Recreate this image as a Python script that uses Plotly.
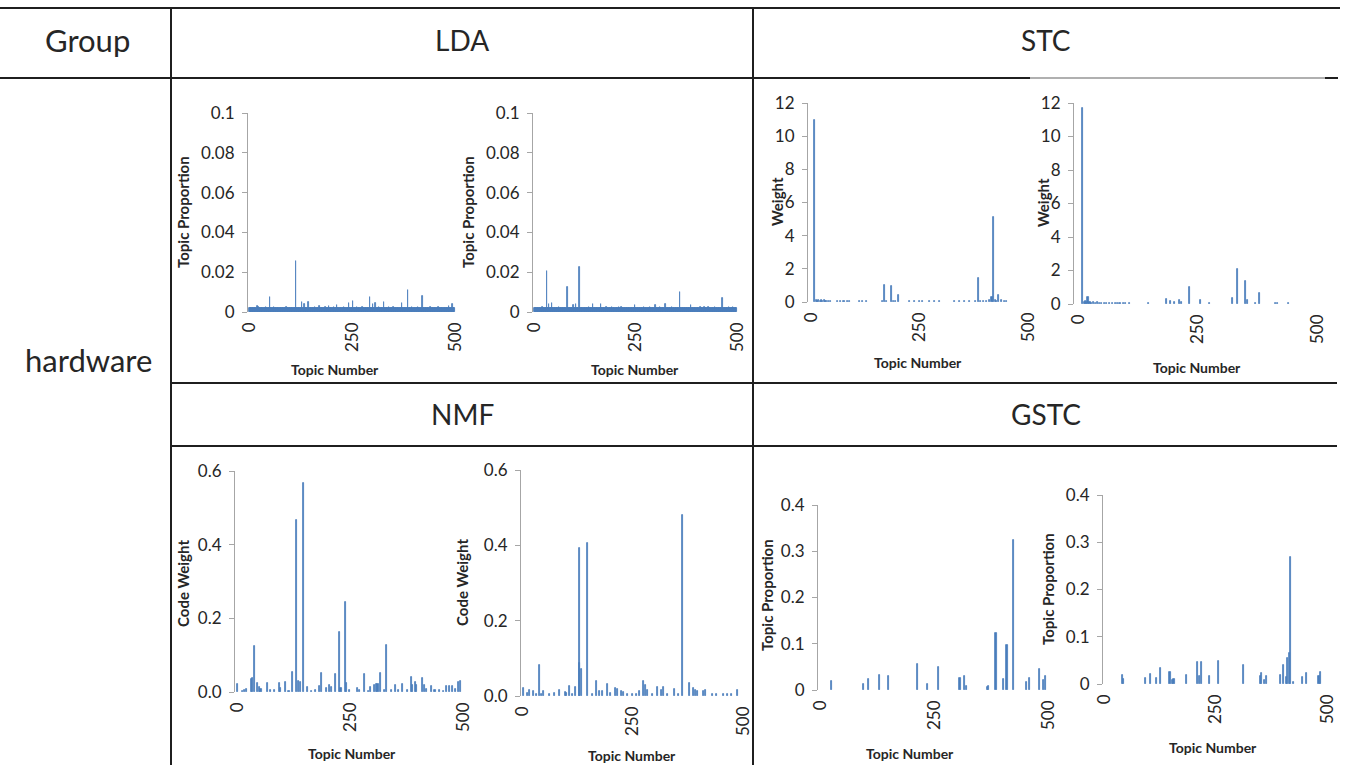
import plotly.graph_objects as go

W, H = 1349, 765

# ---------------- data ----------------
group_label = "hardware"
method_headers = ["LDA", "STC", "NMF", "GSTC"]

topic_tick_values = [0, 250, 500]
topic_tick_labels = ["0", "250", "500"]

lda_ticks = [0, 0.02, 0.04, 0.06, 0.08, 0.1]
lda_tick_labels = ["0", "0.02", "0.04", "0.06", "0.08", "0.1"]
stc_ticks = [0, 2, 4, 6, 8, 10, 12]
stc_tick_labels = ["0", "2", "4", "6", "8", "10", "12"]
nmf_ticks = [0, 0.2, 0.4, 0.6]
nmf_tick_labels = ["0.0", "0.2", "0.4", "0.6"]
gstc_ticks = [0, 0.1, 0.2, 0.3, 0.4]
gstc_tick_labels = ["0", "0.1", "0.2", "0.3", "0.4"]

# LDA: topic proportion of every topic 0..499 (units of 1e-4), rows of 25 topics
lda_left_rows = [
    [21,21,21,21,21, 21,21,21,21,21, 21,21,21,21,21, 21,21,21,21,30, 21,21,26,21,21],
    [21,21,21,21,21, 21,21,21,21,21, 21,21,21,21,21, 24,21,21,21,21, 21,21,21,21,21],
    [75,21,21,21,21, 21,21,21,21,21, 25,21,21,21,21, 21,21,21,21,21, 21,21,21,21,21],
    [21,21,21,21,21, 21,21,21,21,21, 21,21,21,21,21, 24,21,21,21,21, 21,21,21,21,21],
    [21,21,21,21,21, 21,21,21,21,21, 21,21,21,257,21, 21,21,21,21,21, 21,21,21,21,21],
    [21,21,21,49,21, 21,21,21,21,40, 21,21,21,21,21, 21,21,21,21,49, 21,21,21,21,21],
    [21,21,21,21,21, 21,21,21,21,21, 26,21,21,21,21, 21,21,21,21,21, 30,21,21,21,21],
    [21,21,21,21,21, 21,21,21,21,21, 27,21,21,21,21, 21,21,21,30,21, 21,21,21,21,21],
    [21,21,21,21,21, 26,21,21,21,21, 21,21,21,34,21, 21,21,21,21,21, 21,21,21,21,21],
    [21,21,21,21,21, 25,21,21,21,21, 21,21,21,21,21, 21,21,47,21,21, 21,21,21,21,21],
    [21,21,55,21,21, 21,21,21,21,21, 21,21,26,21,21, 21,21,21,21,21, 21,21,21,21,21],
    [26,21,21,21,21, 21,21,21,21,21, 21,21,21,21,21, 21,21,21,77,21, 21,21,21,21,21],
    [40,21,21,21,21, 21,21,45,21,21, 21,21,21,21,21, 26,21,21,21,21, 21,21,21,21,21],
    [21,21,49,21,21, 21,21,21,21,21, 21,21,21,21,21, 25,21,21,21,21, 21,21,21,21,21],
    [24,21,21,21,21, 21,21,21,21,21, 21,21,21,21,21, 21,21,21,21,21, 21,45,21,21,21],
    [21,21,21,21,21, 21,21,21,21,21, 109,21,21,21,21, 21,21,21,21,21, 25,21,21,21,21],
    [21,21,21,21,21, 21,21,21,21,21, 25,21,21,21,21, 21,21,21,21,21, 21,79,21,21,21],
    [21,21,21,21,21, 21,21,21,21,21, 21,21,21,21,21, 25,21,21,21,21, 21,21,21,21,21],
    [21,21,21,21,21, 21,21,21,21,21, 26,21,21,21,21, 21,21,21,21,21, 21,21,21,21,21],
    [21,21,21,21,21, 21,21,21,21,21, 21,30,21,21,21, 21,21,21,21,42, 21,21,21,21,21],
]
lda_right_rows = [
    [20,20,20,20,20, 20,20,20,20,20, 20,20,20,20,20, 20,20,20,20,20, 25,20,20,20,20],
    [20,20,20,20,20, 20,208,20,20,20, 20,42,20,20,20, 20,20,20,44,20, 20,20,20,20,20],
    [20,20,20,20,20, 20,20,20,20,20, 24,20,20,20,20, 20,20,20,20,20, 20,20,20,20,20],
    [20,20,20,20,20, 20,124,20,20,20, 20,20,20,20,20, 20,20,20,20,20, 20,35,20,20,20],
    [20,20,20,42,20, 20,20,20,20,20, 20,227,20,20,20, 20,20,20,20,20, 20,20,20,20,20],
    [20,20,20,20,20, 20,20,20,20,20, 24,20,20,20,20, 20,20,20,20,42, 20,20,20,20,20],
    [20,20,20,20,20, 20,20,20,20,20, 20,20,20,20,39, 20,20,20,20,20, 20,20,20,20,20],
    [20,20,20,26,20, 20,20,20,20,20, 20,20,20,20,20, 20,20,27,20,20, 20,20,20,20,20],
    [20,20,20,20,20, 20,20,20,20,27, 20,20,20,20,20, 25,20,20,20,20, 20,20,20,20,20],
    [20,20,20,20,20, 20,20,20,20,20, 20,20,20,20,20, 20,20,20,20,20, 20,20,20,34,20],
    [20,20,20,20,20, 20,20,20,20,20, 20,20,20,20,20, 20,20,20,20,20, 25,20,20,20,20],
    [20,20,20,20,20, 20,20,20,20,20, 24,20,20,20,20, 20,20,20,20,20, 20,20,20,20,37],
    [20,20,20,20,20, 20,20,20,20,20, 26,20,20,20,20, 20,20,20,20,20, 20,20,20,42,20],
    [20,20,20,20,20, 20,20,20,20,20, 20,20,20,20,20, 24,20,20,20,20, 20,20,20,20,20],
    [20,20,20,20,20, 20,20,20,20,99, 20,20,20,20,20, 20,20,20,20,20, 20,20,20,20,20],
    [20,20,20,20,20, 20,20,20,20,20, 20,20,34,20,20, 20,20,20,20,20, 20,20,20,20,20],
    [20,20,20,20,20, 20,20,20,20,20, 25,20,20,20,20, 20,20,20,20,20, 24,20,20,20,20],
    [20,20,20,20,20, 26,20,20,20,20, 20,20,20,20,20, 20,20,20,20,20, 24,20,20,20,20],
    [20,20,20,20,20, 20,20,20,20,20, 20,20,20,20,71, 20,20,20,20,20, 20,20,20,20,20],
    [20,20,20,20,20, 25,20,20,20,20, 20,20,20,20,20, 24,20,20,20,20, 20,20,20,20,20],
]
lda_left_values = [v / 1e4 for row in lda_left_rows for v in row]
lda_right_values = [v / 1e4 for row in lda_right_rows for v in row]
lda_topics = list(range(len(lda_left_values)))

# STC: weights (only non-zero topics)
stc_left_topics = [9, 12, 15, 18, 21, 24, 27, 30, 33, 36, 40, 46, 62, 68, 76, 84, 88, 111, 119, 127,
                   165, 170, 175, 186, 190, 195, 202, 227, 238, 250, 258, 272, 284, 296, 331, 342,
                   354, 365, 380, 385, 390, 398, 405, 412, 417, 420, 425, 428, 432, 438, 445, 450]
stc_left_values = [10.95, 0.1, 0.08, 0.1, 0.08, 0.1, 0.08, 0.1, 0.06, 0.08, 0.06, 0.05, 0.06, 0.05,
                   0.08, 0.05, 0.06, 0.05, 0.05, 0.06, 0.08, 1.0, 0.06, 0.97, 0.08, 0.06, 0.4, 0.05,
                   0.05, 0.06, 0.05, 0.05, 0.05, 0.05, 0.05, 0.06, 0.05, 0.06, 0.08, 1.45, 0.06, 0.08,
                   0.06, 0.1, 0.3, 5.15, 0.1, 0.08, 0.44, 0.1, 0.08, 0.06]
stc_right_topics = [10, 13, 15, 18, 21, 25, 28, 32, 36, 40, 45, 50, 55, 60, 66, 72, 78, 82, 88, 95,
                    100, 108, 147, 186, 193, 201, 212, 216, 234, 256, 275, 323, 334, 350, 355, 371,
                    379, 413, 418, 441]
stc_right_values = [11.7, 0.1, 0.2, 0.1, 0.42, 0.1, 0.08, 0.1, 0.08, 0.1, 0.08, 0.06, 0.08, 0.06,
                    0.06, 0.05, 0.08, 0.06, 0.05, 0.06, 0.05, 0.06, 0.05, 0.32, 0.15, 0.12, 0.26,
                    0.1, 1.03, 0.26, 0.08, 0.36, 2.09, 1.39, 0.26, 0.06, 0.66, 0.06, 0.06, 0.05]

# NMF: code weights
nmf_left_topics = [2, 12, 17, 22, 32, 34, 38, 46, 49, 53, 68, 75, 82, 94, 97, 107, 115, 123, 131, 137,
                   140, 148, 155, 165, 174, 183, 187, 197, 204, 209, 218, 227, 230, 240, 242, 249,
                   266, 272, 282, 290, 295, 304, 309, 312, 317, 326, 330, 341, 351, 358, 367, 378,
                   386, 389, 395, 398, 410, 414, 420, 431, 438, 447, 456, 464, 471, 476, 483, 491, 494]
nmf_left_values = [0.022, 0.004, 0.005, 0.009, 0.036, 0.038, 0.126, 0.024, 0.014, 0.007, 0.024, 0.005,
                   0.005, 0.024, 0.011, 0.026, 0.004, 0.053, 0.468, 0.031, 0.027, 0.567, 0.014, 0.004,
                   0.005, 0.015, 0.052, 0.011, 0.02, 0.014, 0.048, 0.163, 0.011, 0.244, 0.024, 0.005,
                   0.012, 0.006, 0.05, 0.004, 0.014, 0.018, 0.022, 0.023, 0.052, 0.006, 0.128, 0.005,
                   0.018, 0.005, 0.023, 0.005, 0.04, 0.018, 0.027, 0.018, 0.038, 0.02, 0.009, 0.016,
                   0.006, 0.005, 0.004, 0.017, 0.016, 0.015, 0.009, 0.028, 0.029]
nmf_right_topics = [3, 13, 18, 26, 33, 39, 44, 49, 62, 73, 85, 98, 101, 108, 115, 121, 130, 131, 135,
                    148, 160, 168, 175, 183, 193, 201, 211, 216, 226, 229, 238, 250, 258, 266, 274,
                    280, 283, 295, 307, 315, 321, 330, 346, 355, 363, 380, 387, 393, 398, 411, 416,
                    430, 441, 455, 465, 475, 488]
nmf_right_values = [0.022, 0.009, 0.017, 0.012, 0.006, 0.081, 0.005, 0.012, 0.004, 0.008, 0.017, 0.011,
                    0.009, 0.027, 0.004, 0.023, 0.088, 0.394, 0.071, 0.406, 0.004, 0.041, 0.013, 0.014,
                    0.032, 0.008, 0.022, 0.018, 0.014, 0.011, 0.004, 0.006, 0.004, 0.014, 0.039, 0.028,
                    0.016, 0.004, 0.025, 0.016, 0.025, 0.004, 0.019, 0.004, 0.48, 0.034, 0.02, 0.015,
                    0.012, 0.014, 0.016, 0.004, 0.006, 0.005, 0.004, 0.004, 0.017]

# GSTC: topic proportions
gstc_left_topics = [26, 95, 107, 131, 151, 214, 236, 260, 307, 316, 322, 367, 370, 386, 403, 410, 425,
                    452, 460, 482, 490, 494]
gstc_left_values = [0.019, 0.014, 0.024, 0.032, 0.030, 0.057, 0.012, 0.049, 0.027, 0.030, 0.009, 0.0065,
                    0.009, 0.124, 0.023, 0.097, 0.324, 0.018, 0.027, 0.045, 0.022, 0.030]
gstc_right_topics = [41, 43, 93, 105, 118, 127, 148, 154, 157, 184, 210, 214, 218, 236, 257, 312, 351,
                     354, 359, 364, 396, 403, 410, 412, 416, 419, 425, 446, 453, 482, 486]
gstc_right_values = [0.020, 0.010, 0.012, 0.022, 0.012, 0.033, 0.025, 0.009, 0.010, 0.020, 0.047, 0.018,
                     0.046, 0.018, 0.049, 0.041, 0.016, 0.023, 0.009, 0.016, 0.019, 0.041, 0.014, 0.054,
                     0.065, 0.268, 0.005, 0.015, 0.023, 0.018, 0.025]

# ---------------- layout (pixels) ----------------
FONT = "Lato, 'Open Sans', sans-serif"
BAR = "#4A7EBB"
AXIS_GRAY = "#A6A6A6"
TXT = "#262626"

panels = [
    dict(x=lda_topics, y=lda_left_values, yt=lda_ticks, yl=lda_tick_labels, ymax=0.1, yttl="Topic Proportion",
         ax=248, x0=249.5, x500=455, right=457, ytop=113, ybot=312, yttl_xy=(183, 212), xttl_xy=(335, 369), bw=1.0),
    dict(x=lda_topics, y=lda_right_values, yt=lda_ticks, yl=lda_tick_labels, ymax=0.1, yttl="Topic Proportion",
         ax=533, x0=534.5, x500=737, right=739, ytop=113, ybot=312, yttl_xy=(468, 212), xttl_xy=(635, 369), bw=1.0),
    dict(x=stc_left_topics, y=stc_left_values, yt=stc_ticks, yl=stc_tick_labels, ymax=12, yttl="Weight",
         ax=808, x0=811, x500=1028, right=1030, ytop=103, ybot=302, yttl_xy=(777, 202), xttl_xy=(918, 362), bw=2.4),
    dict(x=stc_right_topics, y=stc_right_values, yt=stc_ticks, yl=stc_tick_labels, ymax=12, yttl="Weight",
         ax=1074, x0=1078, x500=1317, right=1320, ytop=103, ybot=304, yttl_xy=(1043, 203), xttl_xy=(1197, 367), bw=2.4),
    dict(x=nmf_left_topics, y=nmf_left_values, yt=nmf_ticks, yl=nmf_tick_labels, ymax=0.6, yttl="Code Weight",
         ax=235, x0=237, x500=463, right=466, ytop=471, ybot=692, yttl_xy=(183, 584), xttl_xy=(352, 753), bw=2.4),
    dict(x=nmf_right_topics, y=nmf_right_values, yt=nmf_ticks, yl=nmf_tick_labels, ymax=0.6, yttl="Code Weight",
         ax=521, x0=522, x500=743, right=746, ytop=470, ybot=696, yttl_xy=(462, 583), xttl_xy=(632, 755), bw=2.4),
    dict(x=gstc_left_topics, y=gstc_left_values, yt=gstc_ticks, yl=gstc_tick_labels, ymax=0.4, yttl="Topic Proportion",
         ax=818, x0=820, x500=1048, right=1050, ytop=505, ybot=690, yttl_xy=(767, 595), xttl_xy=(910, 753), bw=2.4),
    dict(x=gstc_right_topics, y=gstc_right_values, yt=gstc_ticks, yl=gstc_tick_labels, ymax=0.4, yttl="Topic Proportion",
         ax=1103, x0=1104, x500=1327, right=1330, ytop=495, ybot=684, yttl_xy=(1048, 589), xttl_xy=(1213, 747), bw=2.4),
]


def px(x):
    return x / W


def py(y):
    return 1 - y / H


fig = go.Figure()
annotations = []
layout_axes = {}

for i, p in enumerate(panels, start=1):
    k = (p["x500"] - p["x0"]) / 500.0
    x_lo = -(p["x0"] - p["ax"]) / k
    x_hi = 500 + (p["right"] - p["x500"]) / k
    xa = "x" if i == 1 else f"x{i}"
    ya = "y" if i == 1 else f"y{i}"
    fig.add_trace(go.Bar(
        x=p["x"], y=p["y"], width=p["bw"], xaxis=xa, yaxis=ya,
        marker=dict(color=BAR, line=dict(color=BAR, width=0.8)),
        showlegend=False, hoverinfo="x+y",
    ))
    xkey = "xaxis" if i == 1 else f"xaxis{i}"
    ykey = "yaxis" if i == 1 else f"yaxis{i}"
    layout_axes[xkey] = dict(
        domain=[px(p["ax"]), px(p["right"])], range=[x_lo, x_hi], anchor=ya,
        showgrid=False, zeroline=False, showline=False, ticks="", automargin=False,
        tickvals=topic_tick_values, ticktext=topic_tick_labels, tickangle=-90,
        ticklabelstandoff=6,
        tickfont=dict(family=FONT, size=17, color=TXT), fixedrange=True,
    )
    layout_axes[ykey] = dict(
        domain=[py(p["ybot"]), py(p["ytop"])], range=[0, p["ymax"]], anchor=xa,
        showgrid=False, zeroline=False, showline=True, linecolor=AXIS_GRAY, linewidth=1,
        ticks="outside", ticklen=5, tickcolor=AXIS_GRAY, tickwidth=1, automargin=False,
        tickvals=p["yt"], ticktext=p["yl"], ticklabelstandoff=4,
        tickfont=dict(family=FONT, size=17, color=TXT), fixedrange=True,
    )
    annotations.append(dict(
        text=f"<b>{p['yttl']}</b>", x=px(p["yttl_xy"][0]), y=py(p["yttl_xy"][1]),
        xref="paper", yref="paper", showarrow=False, textangle=-90,
        xanchor="center", yanchor="middle", font=dict(family=FONT, size=15, color=TXT),
    ))
    annotations.append(dict(
        text="<b>Topic Number</b>", x=px(p["xttl_xy"][0]), y=py(p["xttl_xy"][1]),
        xref="paper", yref="paper", showarrow=False,
        xanchor="center", yanchor="middle", font=dict(family=FONT, size=14, color=TXT),
    ))

# header texts
header_pos = [(462, 40), (1046, 40), (462, 414), (1046, 414)]
for name, (hx, hy) in zip(method_headers, header_pos):
    annotations.append(dict(text=name, x=px(hx), y=py(hy), xref="paper", yref="paper", showarrow=False,
                            xanchor="center", yanchor="middle", font=dict(family=FONT, size=28, color=TXT)))
annotations.append(dict(text="Group", x=px(87), y=py(40), xref="paper", yref="paper", showarrow=False,
                        xanchor="center", yanchor="middle", font=dict(family=FONT, size=31, color=TXT)))
annotations.append(dict(text=group_label, x=px(88), y=py(360), xref="paper", yref="paper", showarrow=False,
                        xanchor="center", yanchor="middle", font=dict(family=FONT, size=31, color=TXT)))

# table rules
LINE = "#1f1f1f"
rules = [
    (0, 8, 1340, 8, LINE), (0, 78, 1030, 78, LINE), (1030, 78, 1325, 78, "#b0b0b0"), (1325, 78, 1338, 78, LINE),
    (171, 383, 1337, 383, LINE), (171, 446, 1337, 446, LINE),
    (171, 8, 171, 765, LINE), (753, 8, 753, 765, LINE),
]
shapes = [dict(type="line", xref="paper", yref="paper", x0=px(a), y0=py(b), x1=px(c), y1=py(d),
               line=dict(color=col, width=2), layer="above") for a, b, c, d, col in rules]

fig.update_layout(
    width=W, height=H, margin=dict(l=0, r=0, t=0, b=0, pad=0, autoexpand=False),
    paper_bgcolor="white", plot_bgcolor="rgba(0,0,0,0)",
    annotations=annotations, shapes=shapes, bargap=0,
    font=dict(family=FONT, color=TXT),
    **layout_axes,
)

post = """
document.body.style.margin='0';
document.body.style.padding='0';
document.documentElement.style.overflow='hidden';
document.body.style.overflow='hidden';
"""
fig.write_html("out.html", post_script=post, config={"displayModeBar": False})
